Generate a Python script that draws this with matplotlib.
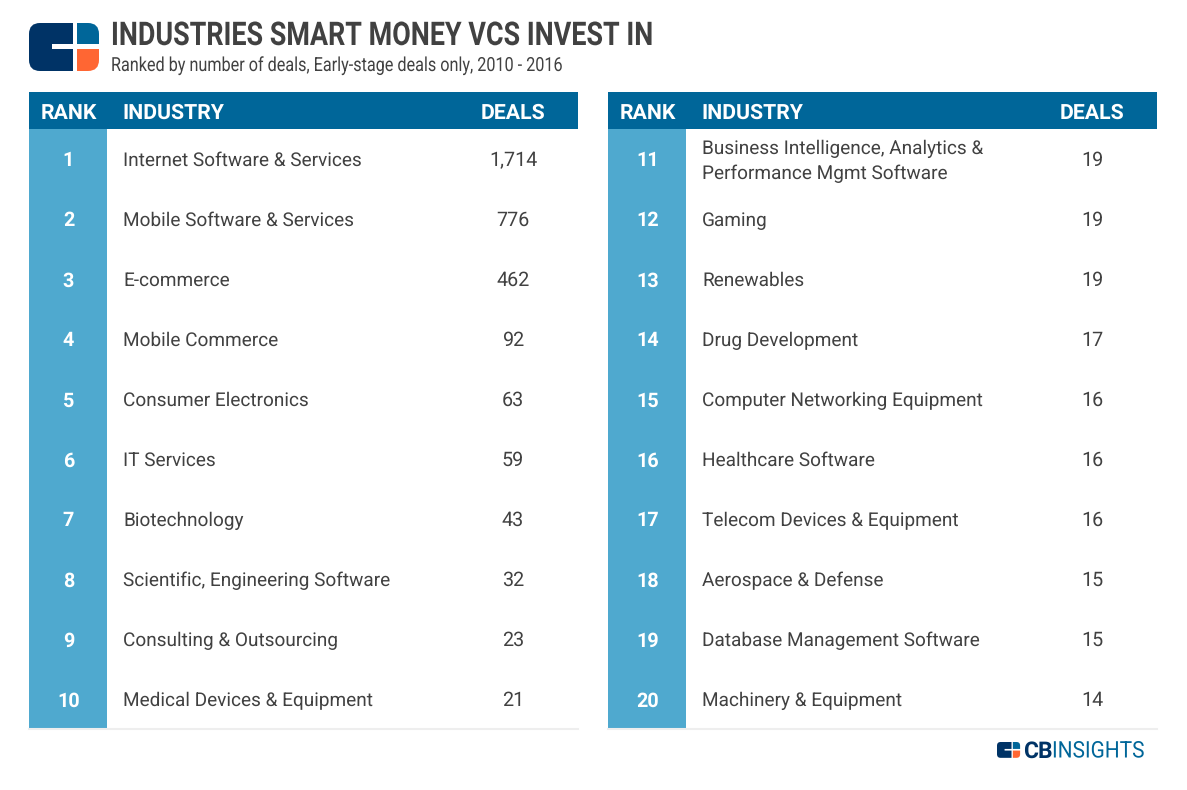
import matplotlib.pyplot as plt
from matplotlib.patches import PathPatch, Rectangle
from matplotlib.path import Path
from matplotlib.patheffects import AbstractPathEffect
from matplotlib.transforms import Affine2D

NAVY = '#003366'
BLUE = '#006699'
LIGHT_BLUE = '#4FA9CF'
ORANGE = '#FF6633'
TEXT = '#414141'

plt.rcParams['font.family'] = ['Roboto', 'DejaVu Sans']
plt.rcParams['text.hinting'] = 'no_hinting'

TITLE = 'INDUSTRIES SMART MONEY VCS INVEST IN'
SUBTITLE = 'Ranked by number of deals, Early-stage deals only, 2010 - 2016'
HEADERS = ['RANK', 'INDUSTRY', 'DEALS']

ranks_left = list(range(1, 11))
industries_left = [
    'Internet Software & Services',
    'Mobile Software & Services',
    'E-commerce',
    'Mobile Commerce',
    'Consumer Electronics',
    'IT Services',
    'Biotechnology',
    'Scientific, Engineering Software',
    'Consulting & Outsourcing',
    'Medical Devices & Equipment',
]
deals_left = ['1,714', '776', '462', '92', '63', '59', '43', '32', '23', '21']

ranks_right = list(range(11, 21))
industries_right = [
    'Business Intelligence, Analytics &\nPerformance Mgmt Software',
    'Gaming',
    'Renewables',
    'Drug Development',
    'Computer Networking Equipment',
    'Healthcare Software',
    'Telecom Devices & Equipment',
    'Aerospace & Defense',
    'Database Management Software',
    'Machinery & Equipment',
]
deals_right = ['19', '19', '19', '17', '16', '16', '16', '15', '15', '14']


class Squeeze(AbstractPathEffect):
    """No condensed Roboto installed, so narrow the glyphs about a left edge (pixels)."""

    def __init__(self, left, factor):
        super().__init__()
        self.squeeze = Affine2D().translate(-left, 0).scale(factor, 1).translate(left, 0)

    def draw_path(self, renderer, gc, tpath, affine, rgbFace=None):
        renderer.draw_path(gc, tpath, affine + self.squeeze, rgbFace)


def rounded_path(pts, radii):
    """Closed polygon through pts with a rounded corner where radius > 0."""
    verts, codes = [], []
    n = len(pts)
    for i, (p, r) in enumerate(zip(pts, radii)):
        prev, nxt = pts[i - 1], pts[(i + 1) % n]
        if r:
            a = (p[0] + r * _sign(prev[0] - p[0]), p[1] + r * _sign(prev[1] - p[1]))
            b = (p[0] + r * _sign(nxt[0] - p[0]), p[1] + r * _sign(nxt[1] - p[1]))
            verts += [a, p, b]
            codes += [Path.LINETO, Path.CURVE3, Path.CURVE3]
        else:
            verts.append(p)
            codes.append(Path.LINETO)
    codes[0] = Path.MOVETO
    verts.append(verts[0])
    codes.append(Path.CLOSEPOLY)
    return Path(verts, codes)


def _sign(v):
    return (v > 0) - (v < 0)


def draw_logo(ax, x0, y0, s):
    def sc(pts):
        return [(x0 + px * s, y0 + py * s) for px, py in pts]

    r = 11 * s
    left = sc([(0, 0), (44, 0), (44, 21), (23, 21), (23, 26), (44, 26), (44, 48), (0, 48)])
    ax.add_patch(PathPatch(rounded_path(left, [r, 0, 0, 0, 0, 0, 0, r]), fc=NAVY, lw=0))
    top = sc([(48, 0), (70, 0), (70, 21), (48, 21)])
    ax.add_patch(PathPatch(rounded_path(top, [0, r, 0, 0]), fc=BLUE, lw=0))
    bottom = sc([(48, 26), (70, 26), (70, 48), (48, 48)])
    ax.add_patch(PathPatch(rounded_path(bottom, [0, 0, r, 0]), fc=ORANGE, lw=0))


def draw_table(ax, x0, ranks, industries, deals):
    width = 549
    ax.add_patch(Rectangle((x0, 92), width, 37, fc=BLUE, lw=0))
    ax.add_patch(Rectangle((x0, 129), 78, 599, fc=LIGHT_BLUE, lw=0))
    ax.plot([x0, x0 + width], [729, 729], color='#EEEEEE', lw=1.5)

    header_kw = dict(color='white', fontsize=15.3, fontweight='bold', va='center')
    ax.text(x0 + 39.5, 113, HEADERS[0], ha='center', **header_kw)
    ax.text(x0 + 93.5, 113, HEADERS[1], ha='left', **header_kw)
    ax.text(x0 + 484, 113, HEADERS[2], ha='center', **header_kw)

    for i, (rank, name, deal) in enumerate(zip(ranks, industries, deals)):
        y = 161 + 60 * i
        ax.text(x0 + 39.5, y, str(rank), color='white', fontsize=14.2, fontweight='bold',
                ha='center', va='center')
        ax.text(x0 + 94, y, name, color=TEXT, fontsize=13.65, ha='left', va='center',
                linespacing=1.45)
        ax.text(x0 + 484, y - 0.5, deal, color=TEXT, fontsize=14.2, ha='center', va='center')


fig = plt.figure(figsize=(11.87, 7.90), dpi=100, facecolor='white')
ax = fig.add_axes([0, 0, 1, 1])
ax.set_xlim(0, 1187)
ax.set_ylim(790, 0)
ax.axis('off')

draw_logo(ax, 29, 23, 1)
ax.text(111, 45, TITLE, color=TEXT, fontsize=23.5, fontweight='bold', ha='left',
        va='baseline', path_effects=[Squeeze(111, 0.825)])
ax.text(111, 71, SUBTITLE, color=TEXT, fontsize=14, ha='left',
        va='baseline', path_effects=[Squeeze(111, 0.833)])

draw_table(ax, 29, ranks_left, industries_left, deals_left)
draw_table(ax, 608, ranks_right, industries_right, deals_right)

draw_logo(ax, 997, 742, 0.33)
ax.text(1023.5, 757.5, 'CB', color=NAVY, fontsize=16.5, fontweight='bold', ha='left', va='baseline')
ax.text(1052, 757.5, 'INSIGHTS', color=BLUE, fontsize=16.5, ha='left',
        va='baseline', path_effects=[Squeeze(1052, 0.91)])

fig.savefig('out.png', dpi=100)
